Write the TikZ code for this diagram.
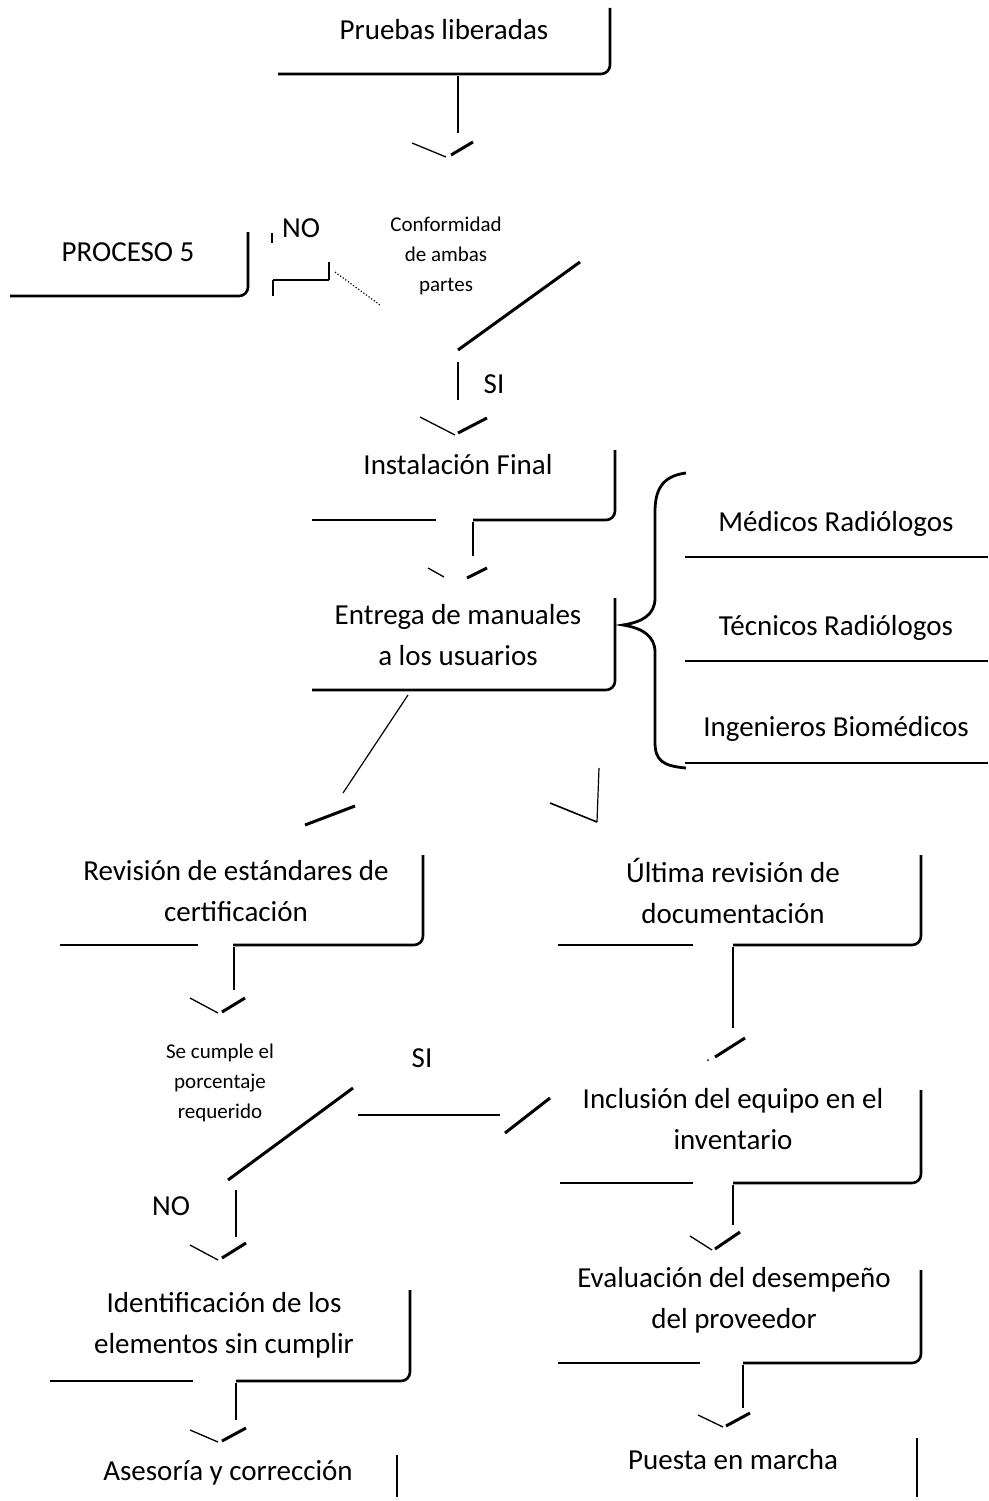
\documentclass[tikz,border=0pt]{standalone}
\usepackage{fontspec}
\setmainfont{Carlito}
\begin{document}
\begin{tikzpicture}[x=1pt,y=-1pt,
  boxline/.style={line width=2.6pt, rounded corners=9pt},
  conn/.style={line width=1.2pt},
  armL/.style={line width=1.3pt},
  armR/.style={line width=3pt},
  brace/.style={line width=2.8pt},
  lbl/.style={font=\fontsize{29}{41}\selectfont, align=center, inner sep=0pt},
  small/.style={font=\fontsize{21}{30}\selectfont, align=center, inner sep=0pt},
]
\useasboundingbox (0,0) rectangle (988,1501);

% ---------- process texts ----------
\node[lbl] (pruebas) at (444,30) {Pruebas liberadas};
\node[lbl] (proc5) at (128,252) {PROCESO 5};
\node[small] (conf) at (446,256) {Conformidad\\de ambas\\partes};
\node[lbl] (inst) at (458,465) {Instalación Final};
\node[lbl] (entrega) at (458,635) {Entrega de manuales\\a los usuarios};
\node[lbl] (medicos) at (836,524) {Médicos Radiólogos};
\node[lbl] (tecnicos) at (836,628) {Técnicos Radiólogos};
\node[lbl] (ingen) at (836,729) {Ingenieros Biomédicos};
\node[lbl] (revision) at (236,891) {Revisión de estándares de\\certificación};
\node[lbl] (ultima) at (733,891) {Última revisión de\\documentación};
\node[small] (cumple) at (220,1083) {Se cumple el\\porcentaje\\requerido};
\node[lbl] (inclusion) at (733,1119) {Inclusión del equipo en el\\inventario};
\node[lbl] (identif) at (224,1325) {Identificación de los\\elementos sin cumplir};
\node[lbl] (evaluacion) at (734,1300) {Evaluación del desempeño\\del proveedor};
\node[lbl] (asesoria) at (228,1473) {Asesoría y corrección};
\node[lbl] (puesta) at (733,1460) {Puesta en marcha};

% ---------- branch labels ----------
\node[lbl] (no1) at (301,228) {NO};
\node[lbl] (si1) at (494,384) {SI};
\node[lbl] (si2) at (422,1058) {SI};
\node[lbl] (no2) at (171,1206) {NO};

% ---------- box outlines (bottom and right sides) ----------
\draw[boxline] (278,74) -- (610,74) -- (610,8);
\draw[boxline] (10,296) -- (248,296) -- (248,232);
\draw[boxline] (312,520) -- (436,520);
\draw[boxline] (473,520) -- (615,520) -- (615,450);
\draw[boxline] (312,690) -- (615,690) -- (615,598);
\draw[boxline] (60,945) -- (198,945);
\draw[boxline] (233,945) -- (423,945) -- (423,855);
\draw[boxline] (558,945) -- (693,945);
\draw[boxline] (733,945) -- (921,945) -- (921,855);
\draw[boxline] (560,1183) -- (693,1183);
\draw[boxline] (733,1183) -- (921,1183) -- (921,1090);
\draw[boxline] (50,1381) -- (193,1381);
\draw[boxline] (236,1381) -- (410,1381) -- (410,1290);
\draw[boxline] (558,1363) -- (700,1363);
\draw[boxline] (743,1363) -- (921,1363) -- (921,1270);
\draw[line width=1.4pt] (397,1455) -- (397,1497);
\draw[line width=1.4pt] (917,1438) -- (917,1497);

% ---------- user list ----------
\draw[line width=2.4pt] (685,557) -- (988,557);
\draw[line width=2.4pt] (685,661) -- (988,661);
\draw[line width=2.4pt] (685,763) -- (988,763);
\draw[brace] (686,473) .. controls (662,476) and (655,490) .. (655,512)
  -- (655,598) .. controls (655,615) and (642,622) .. (623,625)
  .. controls (642,628) and (655,636) .. (655,652)
  -- (655,742) .. controls (655,760) and (662,766) .. (686,768);

% ---------- decision outlines ----------
\draw[line width=3pt] (580,262) -- (458,350);
\draw[line width=3pt] (353,1088) -- (228,1180);

% ---------- connectors ----------
\coordinate (c1a) at (458,76);  \coordinate (c1b) at (458,133);
\draw[conn] (c1a) -- (c1b);
\draw[armL] (412,143) -- (446,157);
\draw[armR] (451,155) -- (473,142);

\coordinate (n1) at (329,262); \coordinate (n2) at (329,280); \coordinate (n3) at (273,280);
\draw[conn] (n1) -- (n2);
\draw[line width=2.6pt] (n2) -- (n3);
\draw[conn] (n3) -- (273,296);
\draw[conn] (272,233) -- (272,243);
\draw[line width=1.2pt, dotted] (335,272) -- (380,305);

\coordinate (s1a) at (458,362); \coordinate (s1b) at (458,400);
\draw[conn] (s1a) -- (s1b);
\draw[armL] (420,417) -- (455,435);
\draw[armR] (458,433) -- (487,418);

\coordinate (e1a) at (473,522); \coordinate (e1b) at (473,556);
\draw[conn] (e1a) -- (e1b);
\draw[armL] (428,568) -- (444,577);
\draw[armR] (467,578) -- (487,568);

\coordinate (l1a) at (408,695); \coordinate (l1b) at (343,793);
\draw[conn] (l1a) -- (l1b);
\draw[armR] (305,825) -- (355,806);

\coordinate (r1a) at (599,768); \coordinate (r1b) at (597,822);
\draw[conn] (r1a) -- (r1b);
\draw[line width=1.6pt] (550,803) -- (r1b);

\coordinate (v4a) at (234,947); \coordinate (v4b) at (234,990);
\draw[conn] (v4a) -- (v4b);
\draw[armL] (190,998) -- (218,1013);
\draw[armR] (222,1012) -- (245,998);

\coordinate (u1a) at (733,947); \coordinate (u1b) at (733,1028);
\draw[conn] (u1a) -- (u1b);
\draw[armR] (715,1057) -- (745,1038);
\fill (708,1060) circle (1pt);

\coordinate (h1a) at (358,1115); \coordinate (h1b) at (500,1115);
\draw[line width=2.6pt] (h1a) -- (h1b);
\draw[armR] (505,1133) -- (550,1098);

\coordinate (i1a) at (733,1185); \coordinate (i1b) at (733,1225);
\draw[conn] (i1a) -- (i1b);
\draw[armL] (690,1236) -- (712,1250);
\draw[armR] (715,1249) -- (740,1232);

\coordinate (no2a) at (236,1190); \coordinate (no2b) at (236,1237);
\draw[conn] (no2a) -- (no2b);
\draw[armL] (190,1245) -- (218,1260);
\draw[armR] (222,1258) -- (246,1243);

\coordinate (id1a) at (236,1383); \coordinate (id1b) at (236,1420);
\draw[conn] (id1a) -- (id1b);
\draw[armL] (190,1430) -- (218,1442);
\draw[armR] (222,1441) -- (246,1428);

\coordinate (ev1a) at (743,1365); \coordinate (ev1b) at (743,1408);
\draw[conn] (ev1a) -- (ev1b);
\draw[armL] (698,1415) -- (723,1427);
\draw[armR] (726,1426) -- (750,1413);
\end{tikzpicture}
\end{document}
